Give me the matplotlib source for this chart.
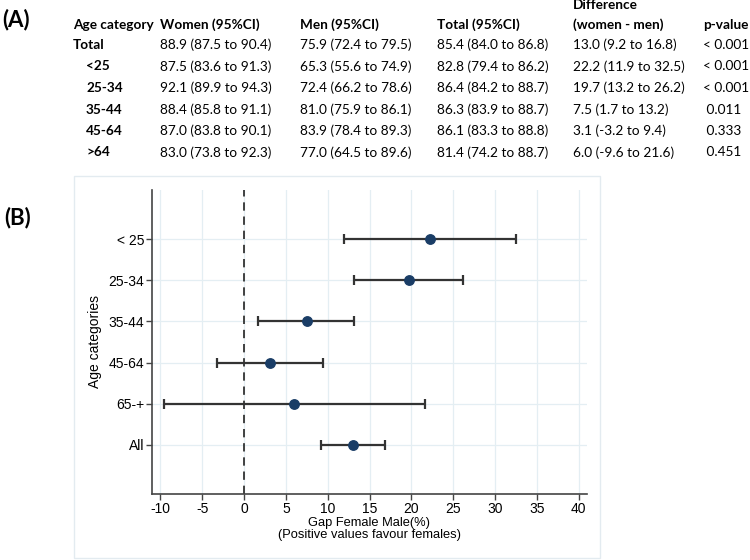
import matplotlib
matplotlib.use("Agg")
import matplotlib.pyplot as plt
from matplotlib.patches import Rectangle

# table (A)
row_labels = ["Total", "<25", "25-34", "35-44", "45-64", ">64"]
women = [(88.9, 87.5, 90.4), (87.5, 83.6, 91.3), (92.1, 89.9, 94.3),
         (88.4, 85.8, 91.1), (87.0, 83.8, 90.1), (83.0, 73.8, 92.3)]
men = [(75.9, 72.4, 79.5), (65.3, 55.6, 74.9), (72.4, 66.2, 78.6),
       (81.0, 75.9, 86.1), (83.9, 78.4, 89.3), (77.0, 64.5, 89.6)]
total = [(85.4, 84.0, 86.8), (82.8, 79.4, 86.2), (86.4, 84.2, 88.7),
         (86.3, 83.9, 88.7), (86.1, 83.3, 88.8), (81.4, 74.2, 88.7)]
difference = [(13.0, 9.2, 16.8), (22.2, 11.9, 32.5), (19.7, 13.2, 26.2),
              (7.5, 1.7, 13.2), (3.1, -3.2, 9.4), (6.0, -9.6, 21.6)]
p_values = ["< 0.001", "< 0.001", "< 0.001", " 0.011", " 0.333", " 0.451"]

# forest plot (B)
categories = ["< 25", "25-34", "35-44", "45-64", "65-+", "All"]
gap = [22.2, 19.7, 7.5, 3.1, 6.0, 13.0]
gap_lo = [11.9, 13.2, 1.7, -3.2, -9.6, 9.2]
gap_hi = [32.5, 26.2, 13.2, 9.4, 21.6, 16.8]
x_ticks = [-10, -5, 0, 5, 10, 15, 20, 25, 30, 35, 40]

W, H = 750, 560
fig = plt.figure(figsize=(7.5, 5.6), dpi=100)

def px(x, y):
    return x / W, 1 - y / H

def fmt(t):
    return "%.1f (%.1f to %.1f)" % t

tfont = "Lato"
fs = 9.8
fig.text(*px(2, 20), "(A)", fontsize=16, fontweight="bold", family=tfont, va="center")
fig.text(*px(4, 218), "(B)", fontsize=16, fontweight="bold", family=tfont, va="center")

col_x = [73, 160, 300, 437, 573, 703]
headers = ["Age category", "Women (95%CI)", "Men (95%CI)", "Total (95%CI)", "(women - men)", "p-value"]
for x, h in zip(col_x, headers):
    fig.text(*px(x, 25), h, fontsize=fs, fontweight="bold", family=tfont, va="center")
fig.text(*px(573, 5), "Difference", fontsize=fs, fontweight="bold", family=tfont, va="center")

row_y = [45, 66.5, 88, 109.5, 131, 152.5]
for i, y in enumerate(row_y):
    lx = 73 if i == 0 else 86
    fig.text(*px(lx, y), row_labels[i], fontsize=fs, fontweight="bold", family=tfont, va="center")
    vals = [fmt(women[i]), fmt(men[i]), fmt(total[i]), fmt(difference[i]), p_values[i]]
    for x, v in zip(col_x[1:], vals):
        fig.text(*px(x, y), v, fontsize=fs, family=tfont, va="center")

# light panel around plot
fig.patches.append(Rectangle(px(74, 558), 526 / W, 382 / H, transform=fig.transFigure,
                             facecolor="none", edgecolor="#e3ebf0", lw=1, zorder=-1))

ax = fig.add_axes([152 / W, 1 - 494 / H, 435 / W, 304 / H])
ax.patch.set_alpha(0)
ypos = list(range(len(categories), 0, -1))

for x in x_ticks:
    ax.axvline(x, color="#e4eef3", lw=0.9, zorder=0)
for y in ypos:
    ax.axhline(y, color="#e4eef3", lw=0.9, zorder=0)

ax.axvline(0, color="#222222", lw=1.2, ls=(0, (5, 3.5)), zorder=1)
err = [[g - l for g, l in zip(gap, gap_lo)], [h - g for g, h in zip(gap, gap_hi)]]
ax.errorbar(gap, ypos, xerr=err, fmt="o", color="#1a3d66", ms=6.8, mec="#1a3d66",
            ecolor="#333333", elinewidth=1.6, capsize=3.5, capthick=1.6, zorder=3)

ax.set_xlim(-11, 41)
ax.set_ylim(-0.19, 7.19)
ax.set_xticks(x_ticks)
ax.set_xticklabels([str(t) for t in x_ticks], family="Liberation Sans", fontsize=10)
ax.set_yticks(ypos)
ax.set_yticklabels(categories, family="Liberation Sans", fontsize=10)
ax.tick_params(direction="out", length=4, width=1, color="#444444", pad=1.5)
for s in ["top", "right"]:
    ax.spines[s].set_visible(False)
for s in ["left", "bottom"]:
    ax.spines[s].set_color("#444444")
    ax.spines[s].set_linewidth(1.2)
ax.set_xlabel("Gap Female Male(%)\n(Positive values favour females)", family="Liberation Sans",
              fontsize=9.3, labelpad=1, linespacing=0.95)
ax.set_ylabel("Age categories", family="Liberation Sans", fontsize=10, labelpad=5)

fig.savefig("out.png", dpi=100)
